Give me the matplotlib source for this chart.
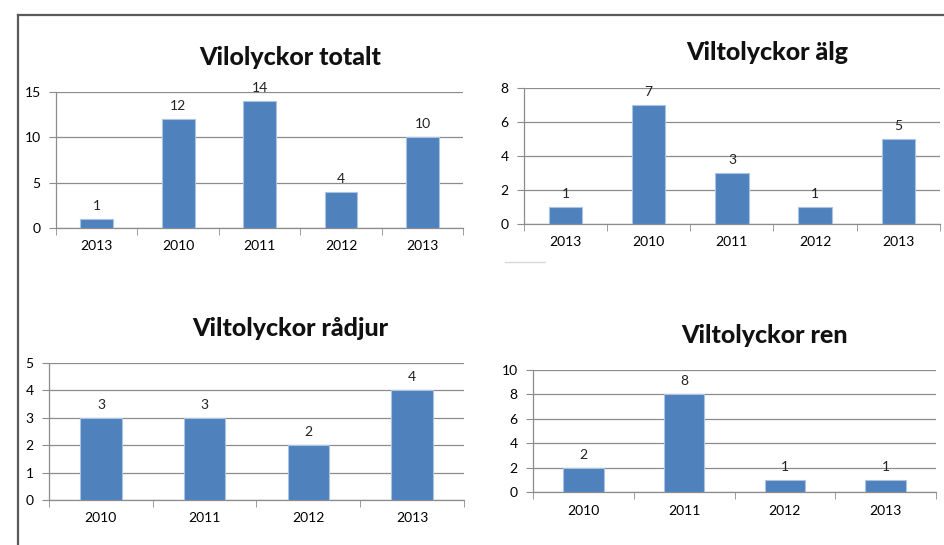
import matplotlib
matplotlib.use("Agg")
import matplotlib.pyplot as plt
from matplotlib.lines import Line2D

plt.rcParams["font.family"] = ["Lato", "DejaVu Sans"]

# data
years_total = ["2013", "2010", "2011", "2012", "2013"]
vals_total = [1, 12, 14, 4, 10]

years_alg = ["2013", "2010", "2011", "2012", "2013"]
vals_alg = [1, 7, 3, 1, 5]

years_radjur = ["2010", "2011", "2012", "2013"]
vals_radjur = [3, 3, 2, 4]

years_ren = ["2010", "2011", "2012", "2013"]
vals_ren = [2, 8, 1, 1]

bar_color = "#4F81BD"
grid_color = "#8c8c8c"

fig = plt.figure(figsize=(9.45, 5.45), dpi=100)


def draw(rect, cats, vals, ymax, ystep, title, title_xy):
    ax = fig.add_axes(rect)
    x = list(range(len(cats)))
    bars = ax.bar(x, vals, width=0.4, color=bar_color, edgecolor="#a9c3e3",
                  linewidth=0.8, zorder=3)
    for b, v in zip(bars, vals):
        ax.annotate(str(v), (b.get_x() + b.get_width() / 2, v),
                    xytext=(0, 5), textcoords="offset points",
                    ha="center", va="bottom", fontsize=10, color="#222222")
    ax.set_xlim(-0.5, len(cats) - 0.5)
    ax.set_ylim(0, ymax)
    yt = list(range(0, ymax + 1, ystep))
    ax.set_yticks(yt)
    ax.yaxis.grid(True, color=grid_color, linewidth=0.9, zorder=0)
    ax.set_axisbelow(True)
    ax.set_xticks(x)
    ax.set_xticklabels(cats)
    # ticks at category boundaries
    ax.set_xticks([i - 0.5 for i in range(len(cats) + 1)], minor=True)
    ax.tick_params(axis="x", which="major", length=0, pad=9, labelsize=10)
    ax.tick_params(axis="x", which="minor", length=5, color=grid_color, direction="out")
    ax.tick_params(axis="y", length=5, color=grid_color, labelsize=10, pad=6)
    for s in ["top", "right"]:
        ax.spines[s].set_visible(False)
    for s in ["left", "bottom"]:
        ax.spines[s].set_color(grid_color)
        ax.spines[s].set_linewidth(0.9)
    fig.text(title_xy[0], title_xy[1], title, ha="center", va="center",
             fontsize=18, fontweight="black", color="#111111")
    return ax


draw([0.0593, 0.5817, 0.431, 0.2495], years_total, vals_total, 15, 5,
     "Vilolyckor totalt", (0.307, 0.8954))
draw([0.5545, 0.589, 0.440, 0.2495], years_alg, vals_alg, 8, 2,
     "Viltolyckor älg", (0.8116, 0.9028))
draw([0.0519, 0.0826, 0.439, 0.2514], years_radjur, vals_radjur, 5, 1,
     "Viltolyckor rådjur", (0.307, 0.398))
draw([0.564, 0.0972, 0.4265, 0.2239], years_ren, vals_ren, 10, 2,
     "Viltolyckor ren", (0.8095, 0.3853))

# frame lines of the page
fig.add_artist(Line2D([0.019, 1.0], [0.9725, 0.9725], color="#5a5a5a", linewidth=1.6))
fig.add_artist(Line2D([0.019, 0.019], [0.0, 0.9725], color="#5a5a5a", linewidth=1.6))
fig.add_artist(Line2D([505 / 945, 545 / 945], [1 - 262 / 545, 1 - 262 / 545],
                      color="#d9d9d9", linewidth=1.0))

fig.savefig("out.png", dpi=100)
